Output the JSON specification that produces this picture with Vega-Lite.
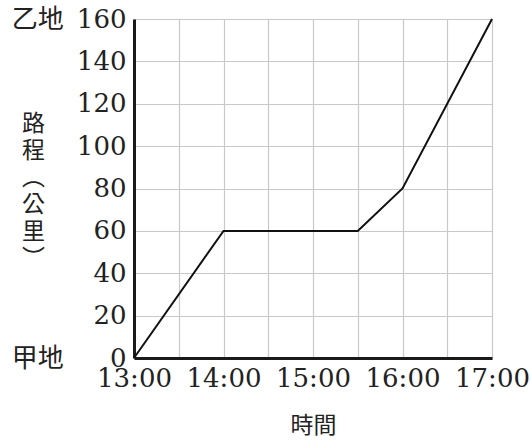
{
  "$schema": "https://vega.github.io/schema/vega-lite/v6.json",
  "autosize": {"type": "none"},
  "padding": {"left": 134, "top": 19, "right": 39, "bottom": 85},
  "width": 358,
  "height": 339,
  "background": "white",
  "data": {"values": [
    {"time": 13, "distance": 0},
    {"time": 14, "distance": 60},
    {"time": 15.5, "distance": 60},
    {"time": 16, "distance": 80},
    {"time": 17, "distance": 160}
  ]},
  "mark": {"type": "line", "color": "#111111", "strokeWidth": 2, "clip": false},
  "encoding": {
    "x": {
      "field": "time", "type": "quantitative",
      "scale": {"domain": [13, 17], "nice": false, "zero": false},
      "axis": {
        "values": [13, 13.5, 14, 14.5, 15, 15.5, 16, 16.5, 17],
        "labelExpr": "datum.value % 1 == 0 ? format(datum.value, 'd') + ':00' : ''",
        "labelFont": "DejaVu Serif", "labelFontSize": 26, "labelColor": "#222222",
        "labelPadding": 7, "labelOverlap": false, "labelBound": false, "labelFlush": false,
        "ticks": false, "grid": true, "gridColor": "#c8c8c8", "gridWidth": 1.2,
        "domainColor": "#1a1a1a", "domainWidth": 3,
        "title": "時間", "titleFont": "Noto Sans CJK TC", "titleFontSize": 23,
        "titleFontWeight": "normal", "titleColor": "#222222",
        "titleX": 179, "titleY": 67, "titleBaseline": "middle", "titleAlign": "center"
      }
    },
    "y": {
      "field": "distance", "type": "quantitative",
      "scale": {"domain": [0, 160], "nice": false},
      "axis": {
        "values": [0, 20, 40, 60, 80, 100, 120, 140, 160],
        "labelExpr": "datum.value == 160 ? '乙地\u2002160' : (datum.value == 0 ? '甲地\u2002\u2007\u20070' : format(datum.value, 'd'))",
        "labelFont": "DejaVu Serif, Noto Sans CJK TC", "labelFontSize": 26, "labelColor": "#222222",
        "labelPadding": 8, "labelOverlap": false, "labelBound": false, "labelFlush": false,
        "ticks": false, "grid": true, "gridColor": "#c8c8c8", "gridWidth": 1.2,
        "domainColor": "#1a1a1a", "domainWidth": 3,
        "title": ["路", "程", "︵", "公", "里", "︶"], "titleFont": "Noto Sans CJK TC", "titleFontSize": 23,
        "titleFontWeight": "normal", "titleColor": "#222222", "titleLineHeight": 27,
        "titleAngle": 0, "titleAlign": "center", "titleBaseline": "top",
        "titleX": -101, "titleY": 93
      }
    }
  },
  "config": {"view": {"stroke": null}}
}
